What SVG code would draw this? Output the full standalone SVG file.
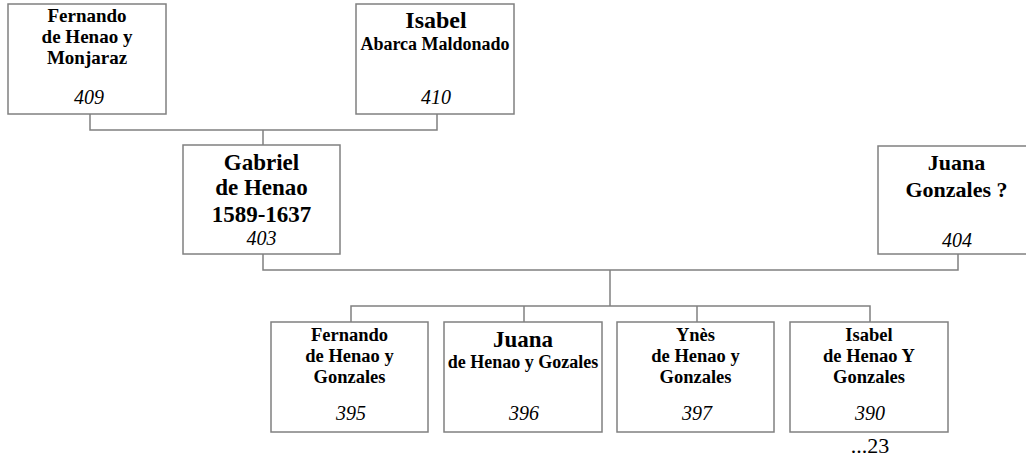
<svg xmlns="http://www.w3.org/2000/svg" width="1026" height="461" viewBox="0 0 1026 461">
<style>
.box{fill:#fff;stroke:#808080;stroke-width:1.5}
.ln{fill:none;stroke:#808080;stroke-width:1.5}
text{font-family:"Liberation Serif","Times New Roman",serif;fill:#000;text-anchor:middle}
.b{font-weight:bold}
.n{font-style:italic;font-size:20px}
</style>
<rect width="1026" height="461" fill="#fff"/>
<g id="connectors">
<path class="ln" d="M90,114 V130 H437 V114"/>
<path class="ln" d="M263,130 V145"/>
<path class="ln" d="M263,254 V270 H958 V254"/>
<path class="ln" d="M610,270 V306"/>
<path class="ln" d="M351,322 V306 H870 V322"/>
<path class="ln" d="M524,306 V322"/>
<path class="ln" d="M697,306 V322"/>
</g>
<g id="n409">
<rect class="box" x="8" y="4" width="158" height="110"/>
<text class="b" x="87" y="22" font-size="19">Fernando</text>
<text class="b" x="87" y="43" font-size="19">de Henao y</text>
<text class="b" x="87" y="64" font-size="19">Monjaraz</text>
<text class="n" x="89" y="104">409</text>
</g>
<g id="n410">
<rect class="box" x="356" y="4" width="158" height="110"/>
<text class="b" x="436" y="28" font-size="24">Isabel</text>
<text class="b" x="435" y="50" font-size="18">Abarca Maldonado</text>
<text class="n" x="436" y="104">410</text>
</g>
<g id="n403">
<rect class="box" x="183" y="145" width="157" height="109"/>
<text class="b" x="261.5" y="170" font-size="23">Gabriel</text>
<text class="b" x="261.5" y="195" font-size="23">de Henao</text>
<text class="b" x="261.5" y="222" font-size="23">1589-1637</text>
<text class="n" x="261.5" y="245" font-size="19">403</text>
</g>
<g id="n404">
<rect class="box" x="878" y="146" width="157" height="108"/>
<text class="b" x="956.5" y="170" font-size="22">Juana</text>
<text class="b" x="956.5" y="197" font-size="22">Gonzales ?</text>
<text class="n" x="957" y="247">404</text>
</g>
<g id="n395">
<rect class="box" x="271" y="322" width="157" height="110"/>
<text class="b" x="349.5" y="341" font-size="18.5">Fernando</text>
<text class="b" x="349.5" y="362" font-size="18.5">de Henao y</text>
<text class="b" x="349.5" y="383" font-size="18.5">Gonzales</text>
<text class="n" x="351" y="420">395</text>
</g>
<g id="n396">
<rect class="box" x="444" y="322" width="158" height="110"/>
<text class="b" x="523" y="347" font-size="23">Juana</text>
<text class="b" x="523" y="368" font-size="18">de Henao y Gozales</text>
<text class="n" x="524" y="420">396</text>
</g>
<g id="n397">
<rect class="box" x="617" y="322" width="157" height="110"/>
<text class="b" x="695.5" y="341" font-size="18.5">Ynès</text>
<text class="b" x="695.5" y="362" font-size="18.5">de Henao y</text>
<text class="b" x="695.5" y="383" font-size="18.5">Gonzales</text>
<text class="n" x="697" y="420">397</text>
</g>
<g id="n390">
<rect class="box" x="790" y="322" width="158" height="110"/>
<text class="b" x="869" y="341" font-size="18.5">Isabel</text>
<text class="b" x="869" y="362" font-size="18.5">de Henao Y</text>
<text class="b" x="869" y="383" font-size="18.5">Gonzales</text>
<text class="n" x="870" y="420">390</text>
<text x="870" y="453" font-size="22">...23</text>
</g>
</svg>
